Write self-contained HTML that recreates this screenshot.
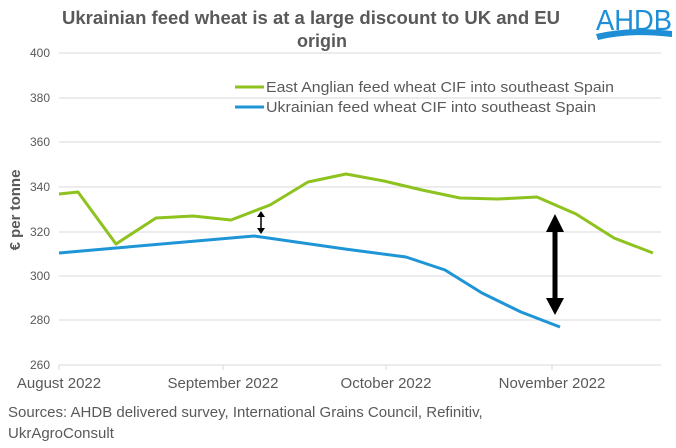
<!DOCTYPE html>
<html><head><meta charset="utf-8"><style>
body{margin:0;background:#fff;}
svg{display:block;font-family:"Liberation Sans",sans-serif;}
</style></head><body>
<svg width="676" height="448" viewBox="0 0 676 448">
<text x="311" y="24" text-anchor="middle" font-size="18" font-weight="bold" fill="#595959" textLength="498" lengthAdjust="spacingAndGlyphs">Ukrainian feed wheat is at a large discount to UK and EU</text>
<text x="322" y="47" text-anchor="middle" font-size="18" font-weight="bold" fill="#595959">origin</text>
<text x="634" y="30" text-anchor="middle" font-size="29" fill="#1e8fd6" textLength="76" lengthAdjust="spacingAndGlyphs">AHDB</text>
<path d="M596 34 Q630 26 672 31 L672 37 Q630 32 598 40 Z" fill="#1e8fd6"/>
<g stroke="#d9d9d9" stroke-width="1">
<line x1="59" y1="53" x2="661" y2="53"/><line x1="59" y1="98" x2="661" y2="98"/>
<line x1="59" y1="142" x2="661" y2="142"/><line x1="59" y1="187" x2="661" y2="187"/>
<line x1="59" y1="232" x2="661" y2="232"/><line x1="59" y1="276" x2="661" y2="276"/>
<line x1="59" y1="320" x2="661" y2="320"/><line x1="59" y1="365" x2="661" y2="365"/>
<line x1="59" y1="365" x2="59" y2="370"/><line x1="223" y1="365" x2="223" y2="370"/>
<line x1="386" y1="365" x2="386" y2="370"/><line x1="552" y1="365" x2="552" y2="370"/>
</g>
<g font-size="12" fill="#595959" text-anchor="end">
<text x="50" y="57">400</text><text x="50" y="102">380</text><text x="50" y="146">360</text>
<text x="50" y="191">340</text><text x="50" y="236">320</text><text x="50" y="280">300</text>
<text x="50" y="324">280</text><text x="50" y="369">260</text>
</g>
<text transform="translate(20,210) rotate(-90)" text-anchor="middle" font-size="15" font-weight="bold" fill="#595959">€ per tonne</text>
<g font-size="15" fill="#595959" text-anchor="middle">
<text x="59" y="388">August 2022</text><text x="223" y="388">September 2022</text>
<text x="386" y="388">October 2022</text><text x="552" y="388">November 2022</text>
</g>
<polyline fill="none" stroke="#8dc21f" stroke-width="3" stroke-linejoin="round" points="59,194 78,192 116,244 156,218 193,216 231,220 270,205 308,182 346,174 384,181 422,190 460,198 498,199 537,197 576,214 614,238 653,253"/>
<polyline fill="none" stroke="#1e95d6" stroke-width="3" stroke-linejoin="round" points="59,253 116,248 254,236 345,249 406,257 445,270 482,293 521,312 560,327"/>
<g fill="#000" stroke="#000">
<line x1="261" y1="215" x2="261" y2="230" stroke-width="1.5"/>
<path d="M257 217 L261 211 L265 217Z M257 228 L261 234 L265 228Z" stroke="none"/>
<line x1="555" y1="228" x2="555" y2="302" stroke-width="5"/>
<path d="M546 232 L555 214 L564 232Z M546 298 L555 315 L564 298Z" stroke="none"/>
</g>
<line x1="235" y1="87" x2="264" y2="87" stroke="#8dc21f" stroke-width="3"/>
<line x1="235" y1="107" x2="264" y2="107" stroke="#1e95d6" stroke-width="3"/>
<g font-size="15" fill="#595959">
<text x="266" y="92" textLength="348" lengthAdjust="spacingAndGlyphs">East Anglian feed wheat CIF into southeast Spain</text>
<text x="266" y="112" textLength="330" lengthAdjust="spacingAndGlyphs">Ukrainian feed wheat CIF into southeast Spain</text>
<text x="8" y="417">Sources: AHDB delivered survey, International Grains Council, Refinitiv,</text>
<text x="8" y="438">UkrAgroConsult</text>
</g>
</svg>
</body></html>
